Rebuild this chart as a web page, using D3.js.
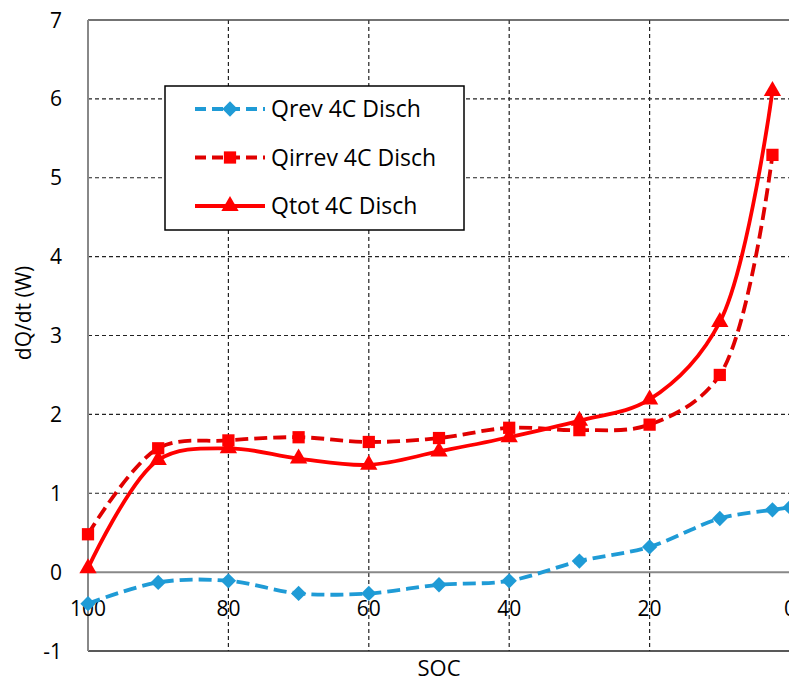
<!DOCTYPE html>
<html>
<head>
<meta charset="utf-8">
<script src="https://cdn.jsdelivr.net/npm/d3@7"></script>
<style>
  body { margin: 0; background: #fff; }
  svg { display: block; font-family: "Open Sans", Lato, sans-serif; }
</style>
</head>
<body>
<div id="chart"></div>
<script>
const width = 789;
const height = 682;
const margin = {top: 20, right: -1, bottom: 31, left: 88};

const soc = [100, 90, 80, 70, 60, 50, 40, 30, 20, 10, 2.5];
const qrev = [-0.40, -0.13, -0.11, -0.27, -0.27, -0.16, -0.11, 0.14, 0.32, 0.68, 0.79];
const qirrev = [0.48, 1.57, 1.67, 1.71, 1.65, 1.70, 1.83, 1.80, 1.87, 2.50, 5.29];
const qtot = [0.05, 1.42, 1.57, 1.44, 1.36, 1.53, 1.71, 1.92, 2.19, 3.17, 6.10];

const qrevSoc = soc.concat([0]);
const qrevVals = qrev.concat([0.82]);

const xTicks = [100, 80, 60, 40, 20, 0];
const yTicks = [-1, 0, 1, 2, 3, 4, 5, 6, 7];

const series = [
  {name: "Qrev 4C Disch", x: qrevSoc, y: qrevVals, color: "#1f9bd6", marker: "#1f9bd6", dash: "13,6", symbol: d3.symbolDiamond2},
  {name: "Qirrev 4C Disch", x: soc, y: qirrev, color: "#e00000", marker: "#ff0000", dash: "13,6", symbol: d3.symbolSquare},
  {name: "Qtot 4C Disch", x: soc, y: qtot, color: "#ff0000", marker: "#ff0000", dash: null, symbol: d3.symbolTriangle}
];

const svg = d3.select("#chart")
              .append("svg")
              .attr("width", width)
              .attr("height", height);

const xScale = d3.scaleLinear()
                 .domain([100, 0])
                 .range([margin.left, 790]);

const yScale = d3.scaleLinear()
                 .domain([-1, 7])
                 .range([height - margin.bottom, margin.top]);

// grid
svg.append("g")
   .selectAll("line")
   .data(xTicks.filter(d => d !== 100))
   .join("line")
   .attr("x1", d => xScale(d))
   .attr("x2", d => xScale(d))
   .attr("y1", yScale(7))
   .attr("y2", yScale(-1))
   .attr("stroke", "#222")
   .attr("stroke-width", 1.2)
   .attr("stroke-dasharray", "4,3");

svg.append("g")
   .selectAll("line")
   .data(yTicks.filter(d => d > 0 && d < 7))
   .join("line")
   .attr("x1", xScale(100))
   .attr("x2", xScale(0))
   .attr("y1", d => yScale(d))
   .attr("y2", d => yScale(d))
   .attr("stroke", "#222")
   .attr("stroke-width", 1.2)
   .attr("stroke-dasharray", "4,3");

// plot border
svg.append("line")
   .attr("x1", xScale(100)).attr("x2", xScale(0))
   .attr("y1", yScale(7)).attr("y2", yScale(7))
   .attr("stroke", "#444").attr("stroke-width", 1.5);
svg.append("line")
   .attr("x1", xScale(100)).attr("x2", xScale(0))
   .attr("y1", yScale(-1)).attr("y2", yScale(-1))
   .attr("stroke", "#222").attr("stroke-width", 1.5);

// zero line x axis
svg.append("line")
   .attr("x1", xScale(100)).attr("x2", xScale(0))
   .attr("y1", yScale(0)).attr("y2", yScale(0))
   .attr("stroke", "#888").attr("stroke-width", 2);

// y axis
svg.append("line")
   .attr("x1", xScale(100)).attr("x2", xScale(100))
   .attr("y1", yScale(7)).attr("y2", yScale(-1))
   .attr("stroke", "#888").attr("stroke-width", 2);

svg.append("g")
   .selectAll("text")
   .data(yTicks)
   .join("text")
   .attr("x", 62)
   .attr("y", d => yScale(d))
   .attr("dy", "0.36em")
   .attr("text-anchor", "end")
   .style("font-size", "21px")
   .attr("fill", "#000")
   .text(d => d);

svg.append("g")
   .selectAll("text")
   .data(xTicks)
   .join("text")
   .attr("x", d => xScale(d))
   .attr("y", yScale(0) + 44)
   .attr("text-anchor", "middle")
   .style("font-size", "21px")
   .attr("fill", "#000")
   .text(d => d);

// lines
const line = d3.line()
               .x(d => xScale(d[0]))
               .y(d => yScale(d[1]))
               .curve(d3.curveCatmullRom.alpha(0.5));

series.forEach(s => {
  const pts = s.x.map((x, i) => [x, s.y[i]]);
  svg.append("path")
     .datum(pts)
     .attr("d", line)
     .attr("fill", "none")
     .attr("stroke", s.color)
     .attr("stroke-width", 3.8)
     .attr("stroke-dasharray", s.dash);

  svg.append("g")
     .selectAll("path")
     .data(pts)
     .join("path")
     .attr("transform", d => `translate(${xScale(d[0])}, ${yScale(d[1])})`)
     .attr("d", d3.symbol().type(s.symbol).size(s.symbol === d3.symbolTriangle ? 130 : 150))
     .attr("fill", s.marker);
});

// axis titles
svg.append("text")
   .attr("x", 439)
   .attr("y", 676)
   .attr("text-anchor", "middle")
   .style("font-size", "22px")
   .text("SOC");

svg.append("text")
   .attr("transform", "translate(31, 313) rotate(-90)")
   .attr("text-anchor", "middle")
   .style("font-size", "21px")
   .text("dQ/dt (W)");

// legend
const legend = svg.append("g");
legend.append("rect")
      .attr("x", 165)
      .attr("y", 86)
      .attr("width", 299)
      .attr("height", 144)
      .attr("fill", "#fff")
      .attr("stroke", "#000")
      .attr("stroke-width", 1.5);

series.forEach((s, i) => {
  const y = 109 + i * 48.5;
  legend.append("line")
        .attr("x1", 195).attr("x2", 265)
        .attr("y1", y).attr("y2", y)
        .attr("stroke", s.color)
        .attr("stroke-width", 3.8)
        .attr("stroke-dasharray", s.dash ? "11,6" : null);
  legend.append("path")
        .attr("transform", `translate(230, ${y})`)
        .attr("d", d3.symbol().type(s.symbol).size(s.symbol === d3.symbolTriangle ? 130 : 150))
        .attr("fill", s.marker);
  legend.append("text")
        .attr("x", 271)
        .attr("y", y)
        .attr("dy", "0.36em")
        .style("font-size", "23px")
        .text(s.name);
});
</script>
</body>
</html>
